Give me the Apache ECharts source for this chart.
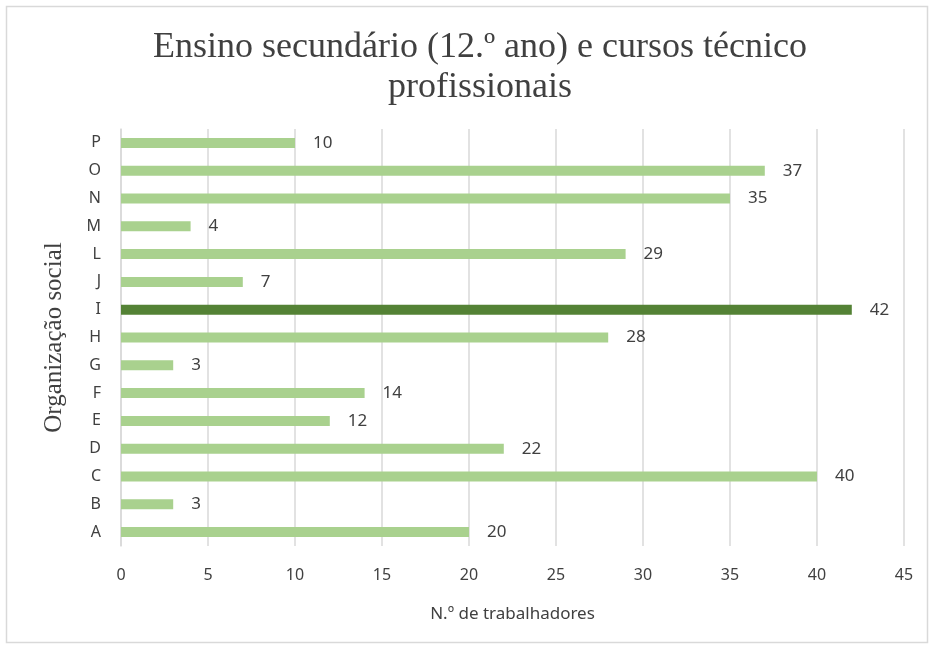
<!DOCTYPE html>
<html>
<head>
<meta charset="utf-8">
<script src="https://cdn.jsdelivr.net/npm/echarts@6/dist/echarts.min.js"></script>
<style>
  html, body { margin: 0; padding: 0; background: #fff; }
  #chart { width: 933px; height: 648px; }
</style>
</head>
<body>
<div id="chart"></div>
<script>
// categorias (de baixo para cima) e valores
const categorias = ['A', 'B', 'C', 'D', 'E', 'F', 'G', 'H', 'I', 'J', 'L', 'M', 'N', 'O', 'P'];
const trabalhadores = [20, 3, 40, 22, 12, 14, 3, 28, 42, 7, 29, 4, 35, 37, 10];
const destaque = 'I';

const chart = echarts.init(document.getElementById('chart'));
const option = {
  backgroundColor: '#fff',
  title: {
    text: 'Ensino secundário (12.º ano) e cursos técnico\nprofissionais',
    left: 475,
    top: 23,
    textAlign: 'center',
    textStyle: {
      fontFamily: 'Liberation Serif',
      fontWeight: 'normal',
      fontSize: 36,
      lineHeight: 40,
      color: '#404040'
    }
  },
  graphic: [{
    type: 'rect',
    shape: { x: 6.5, y: 6.5, width: 921, height: 636 },
    style: { fill: 'none', stroke: '#d9d9d9', lineWidth: 1.5 },
    silent: true
  }],
  grid: {
    left: 121,
    right: 29,
    top: 129,
    bottom: 102
  },
  xAxis: {
    type: 'value',
    min: 0,
    max: 45,
    interval: 5,
    name: 'N.º de trabalhadores',
    nameLocation: 'middle',
    nameGap: 60,
    nameTextStyle: { fontFamily: 'Noto Sans', fontSize: 17, color: '#404040' },
    axisLabel: { fontFamily: 'Noto Sans', fontSize: 16, color: '#404040', margin: 21 },
    axisLine: { show: false },
    axisTick: { show: false },
    splitLine: { lineStyle: { color: '#d9d9d9', width: 1.5 } }
  },
  yAxis: {
    type: 'category',
    data: categorias,
    name: 'Organização social',
    nameLocation: 'middle',
    nameGap: 54,
    nameTextStyle: { fontFamily: 'Liberation Serif', fontSize: 25, color: '#404040' },
    axisLabel: { fontFamily: 'Noto Sans', fontSize: 16, color: '#404040', margin: 20 },
    axisLine: { lineStyle: { color: '#d9d9d9', width: 1.5 } },
    axisTick: { show: false }
  },
  series: [{
    type: 'bar',
    barWidth: 10,
    data: trabalhadores.map((v, i) => ({
      value: v,
      itemStyle: { color: categorias[i] === destaque ? '#548235' : '#a9d18e' }
    })),
    label: {
      show: true,
      position: 'right',
      distance: 18,
      fontFamily: 'Noto Sans',
      fontSize: 17,
      color: '#404040'
    }
  }]
};
chart.setOption(option);
</script>
</body>
</html>
